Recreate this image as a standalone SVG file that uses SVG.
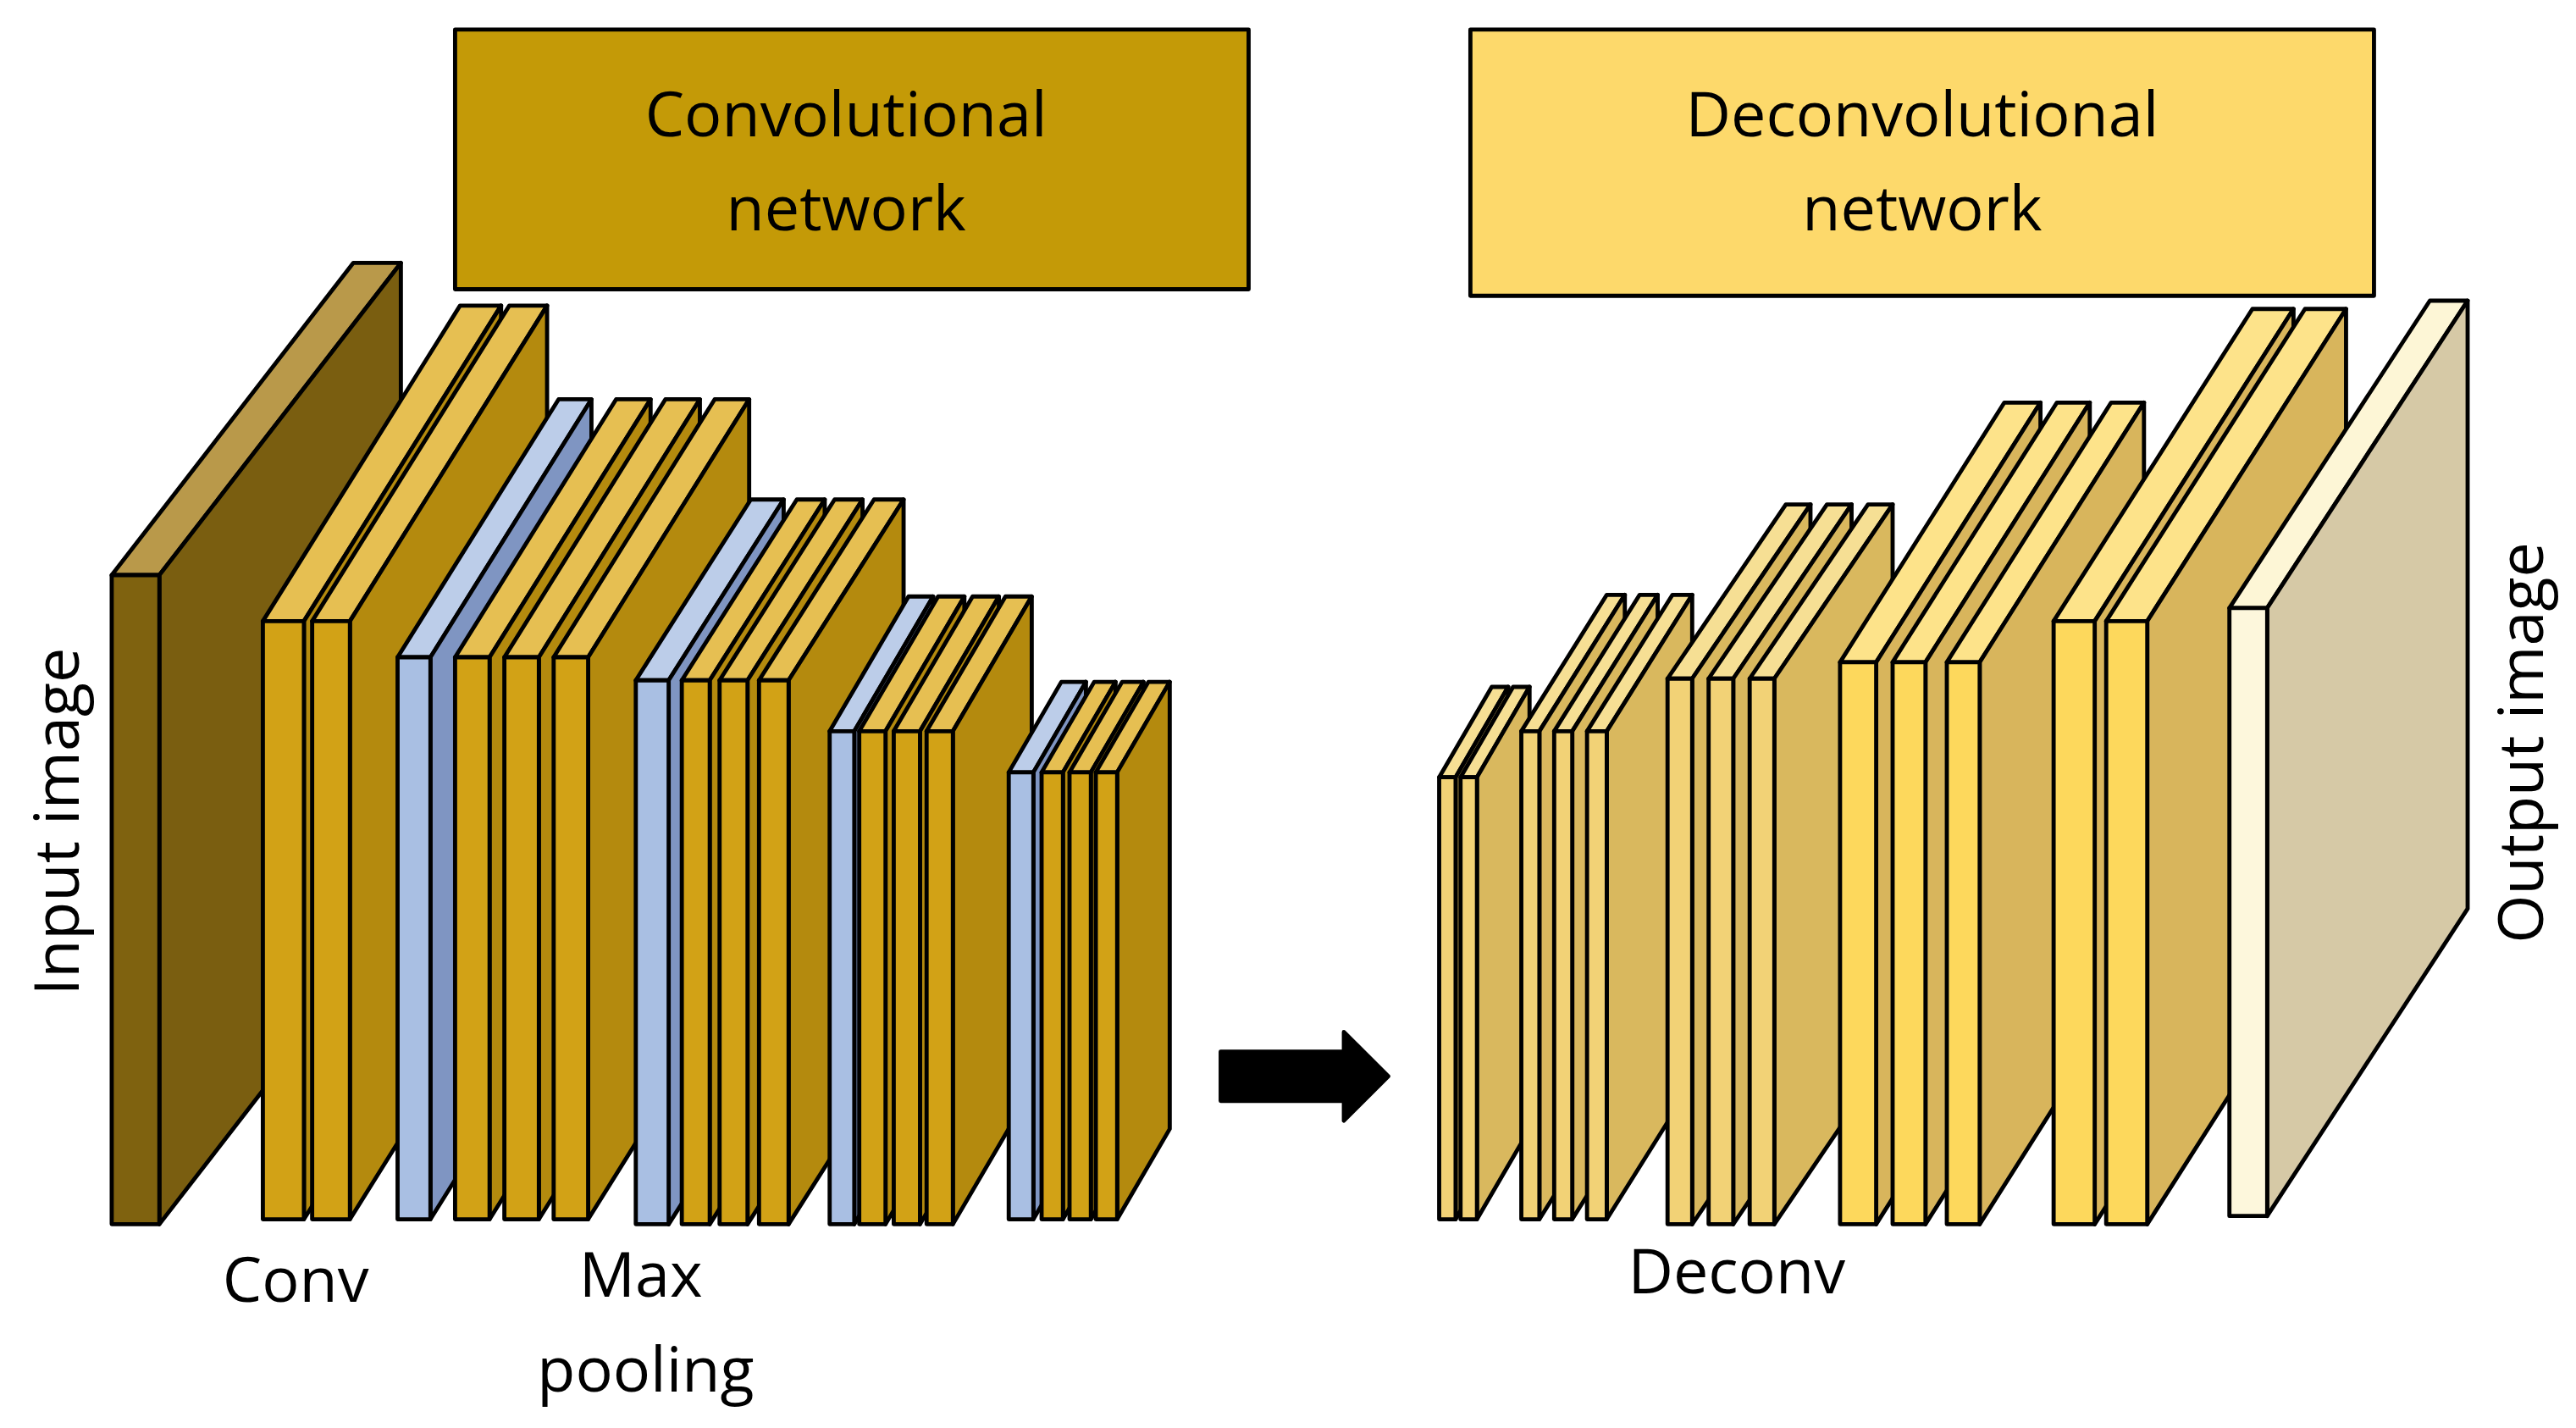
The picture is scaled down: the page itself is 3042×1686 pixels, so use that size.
<svg xmlns="http://www.w3.org/2000/svg" width="3042" height="1686" viewBox="0 0 3042 1686">
<style>
polygon,rect{stroke:#000;stroke-width:2.5;stroke-linejoin:round}
rect.bg{stroke:none}
text{font-family:"Open Sans","Noto Sans","Liberation Sans",sans-serif;font-size:38px;fill:#000;text-anchor:middle}
.inF{fill:#7f620f}.inT{fill:#b9994a}.inS{fill:#7a5e10}
.gF{fill:#d2a216}.gT{fill:#e6bf52}.gS{fill:#b48a0e}
.bF{fill:#a9bfe3}.bT{fill:#bccde9}.bS{fill:#7f95c2}
.lF{fill:#f2d276}.lT{fill:#f6df94}.lS{fill:#d9b85e}
.yF{fill:#fdd85c}.yT{fill:#fde38a}.yS{fill:#d8b55c}
.oF{fill:#fdf7dc}.oT{fill:#fdf6d6}.oS{fill:#d6c9a6}
</style>
<rect class="bg" width="3042" height="1686" fill="#fff"/>
<g transform="scale(1.9401)">
<g id="conv-box"><rect x="277" y="18" width="483" height="158" fill="#c49a07"/><text x="515" y="83">Convolutional</text><text x="515" y="140">network</text></g>
<g id="deconv-box"><rect x="895" y="18" width="550" height="162" fill="#fdd96b"/><text x="1170" y="83">Deconvolutional</text><text x="1170" y="140">network</text></g>
<g id="input">
<polygon class="inT" points="68,350 97,350 244,160 215,160"/><polygon class="inS" points="97,350 244,160 244,555 97,745"/><rect class="inF" x="68" y="350" width="29" height="395"/>
</g>
<g id="conv">
<polygon class="gT" points="160,378 185,378 305,186 280,186"/><polygon class="gS" points="185,378 305,186 305,550 185,742"/><rect class="gF" x="160" y="378" width="25" height="364"/>
<polygon class="gT" points="190,378 213,378 333,186 310,186"/><polygon class="gS" points="213,378 333,186 333,550 213,742"/><rect class="gF" x="190" y="378" width="23" height="364"/>
</g>
<g id="block2">
<polygon class="bT" points="242,400 262,400 360,243 340,243"/><polygon class="bS" points="262,400 360,243 360,585 262,742"/><rect class="bF" x="242" y="400" width="20" height="342"/>
<polygon class="gT" points="277,400 298,400 396,243 375,243"/><polygon class="gS" points="298,400 396,243 396,585 298,742"/><rect class="gF" x="277" y="400" width="21" height="342"/>
<polygon class="gT" points="307,400 328,400 426,243 405,243"/><polygon class="gS" points="328,400 426,243 426,585 328,742"/><rect class="gF" x="307" y="400" width="21" height="342"/>
<polygon class="gT" points="337,400 358,400 456,243 435,243"/><polygon class="gS" points="358,400 456,243 456,585 358,742"/><rect class="gF" x="337" y="400" width="21" height="342"/>
</g>
<g id="block3">
<polygon class="bT" points="387,414 407,414 477,304 457,304"/><polygon class="bS" points="407,414 477,304 477,635 407,745"/><rect class="bF" x="387" y="414" width="20" height="331"/>
<polygon class="gT" points="415,414 432,414 502,304 485,304"/><polygon class="gS" points="432,414 502,304 502,635 432,745"/><rect class="gF" x="415" y="414" width="17" height="331"/>
<polygon class="gT" points="438,414 455,414 525,304 508,304"/><polygon class="gS" points="455,414 525,304 525,635 455,745"/><rect class="gF" x="438" y="414" width="17" height="331"/>
<polygon class="gT" points="462,414 480,414 550,304 532,304"/><polygon class="gS" points="480,414 550,304 550,635 480,745"/><rect class="gF" x="462" y="414" width="18" height="331"/>
</g>
<g id="block4">
<polygon class="bT" points="505,445 520,445 568,363 553,363"/><polygon class="bS" points="520,445 568,363 568,663 520,745"/><rect class="bF" x="505" y="445" width="15" height="300"/>
<polygon class="gT" points="523,445 539,445 587,363 571,363"/><polygon class="gS" points="539,445 587,363 587,663 539,745"/><rect class="gF" x="523" y="445" width="16" height="300"/>
<polygon class="gT" points="544,445 560,445 608,363 592,363"/><polygon class="gS" points="560,445 608,363 608,663 560,745"/><rect class="gF" x="544" y="445" width="16" height="300"/>
<polygon class="gT" points="564,445 580,445 628,363 612,363"/><polygon class="gS" points="580,445 628,363 628,663 580,745"/><rect class="gF" x="564" y="445" width="16" height="300"/>
</g>
<g id="block5">
<polygon class="bT" points="614,470 629,470 661,415 646,415"/><polygon class="bS" points="629,470 661,415 661,687 629,742"/><rect class="bF" x="614" y="470" width="15" height="272"/>
<polygon class="gT" points="634,470 647,470 679,415 666,415"/><polygon class="gS" points="647,470 679,415 679,687 647,742"/><rect class="gF" x="634" y="470" width="13" height="272"/>
<polygon class="gT" points="651,470 664,470 696,415 683,415"/><polygon class="gS" points="664,470 696,415 696,687 664,742"/><rect class="gF" x="651" y="470" width="13" height="272"/>
<polygon class="gT" points="667,470 680,470 712,415 699,415"/><polygon class="gS" points="680,470 712,415 712,687 680,742"/><rect class="gF" x="667" y="470" width="13" height="272"/>
</g>
<g id="connectors"><polygon points="743,640 818,640 818,628 845,655 818,682 818,670 743,670" fill="#000"/></g>
<g id="dblock1">
<polygon class="lT" points="876,473 886,473 918,418 908,418"/><polygon class="lS" points="886,473 918,418 918,687 886,742"/><rect class="lF" x="876" y="473" width="10" height="269"/>
<polygon class="lT" points="889,473 899,473 931,418 921,418"/><polygon class="lS" points="899,473 931,418 931,687 899,742"/><rect class="lF" x="889" y="473" width="10" height="269"/>
</g>
<g id="dblock2">
<polygon class="lT" points="926,445 937,445 989,362 978,362"/><polygon class="lS" points="937,445 989,362 989,659 937,742"/><rect class="lF" x="926" y="445" width="11" height="297"/>
<polygon class="lT" points="946,445 957,445 1009,362 998,362"/><polygon class="lS" points="957,445 1009,362 1009,659 957,742"/><rect class="lF" x="946" y="445" width="11" height="297"/>
<polygon class="lT" points="966,445 978,445 1030,362 1018,362"/><polygon class="lS" points="978,445 1030,362 1030,659 978,742"/><rect class="lF" x="966" y="445" width="12" height="297"/>
</g>
<g id="dblock3">
<polygon class="lT" points="1015,413 1030,413 1102,307 1087,307"/><polygon class="lS" points="1030,413 1102,307 1102,639 1030,745"/><rect class="lF" x="1015" y="413" width="15" height="332"/>
<polygon class="lT" points="1040,413 1055,413 1127,307 1112,307"/><polygon class="lS" points="1055,413 1127,307 1127,639 1055,745"/><rect class="lF" x="1040" y="413" width="15" height="332"/>
<polygon class="lT" points="1065,413 1080,413 1152,307 1137,307"/><polygon class="lS" points="1080,413 1152,307 1152,639 1080,745"/><rect class="lF" x="1065" y="413" width="15" height="332"/>
</g>
<g id="dblock4">
<polygon class="yT" points="1120,403 1142,403 1242,245 1220,245"/><polygon class="yS" points="1142,403 1242,245 1242,587 1142,745"/><rect class="yF" x="1120" y="403" width="22" height="342"/>
<polygon class="yT" points="1152,403 1172,403 1272,245 1252,245"/><polygon class="yS" points="1172,403 1272,245 1272,587 1172,745"/><rect class="yF" x="1152" y="403" width="20" height="342"/>
<polygon class="yT" points="1185,403 1205,403 1305,245 1285,245"/><polygon class="yS" points="1205,403 1305,245 1305,587 1205,745"/><rect class="yF" x="1185" y="403" width="20" height="342"/>
</g>
<g id="dblock5">
<polygon class="yT" points="1250,378 1275,378 1396,188 1371,188"/><polygon class="yS" points="1275,378 1396,188 1396,555 1275,745"/><rect class="yF" x="1250" y="378" width="25" height="367"/>
<polygon class="yT" points="1282,378 1307,378 1428,188 1403,188"/><polygon class="yS" points="1307,378 1428,188 1428,555 1307,745"/><rect class="yF" x="1282" y="378" width="25" height="367"/>
</g>
<g id="output">
<polygon class="oT" points="1357,370 1380,370 1502,183 1479,183"/><polygon class="oS" points="1380,370 1502,183 1502,553 1380,740"/><rect class="oF" x="1357" y="370" width="23" height="370"/>
</g>
<g id="labels">
<text transform="translate(48,500) rotate(-90)">Input image</text>
<text transform="translate(1548,452) rotate(-90)">Output image</text>
<text x="180" y="792">Conv</text>
<text x="390" y="789">Max</text>
<text x="393" y="847">pooling</text>
<text x="1057" y="787">Deconv</text>
</g>
</g>
</svg>
